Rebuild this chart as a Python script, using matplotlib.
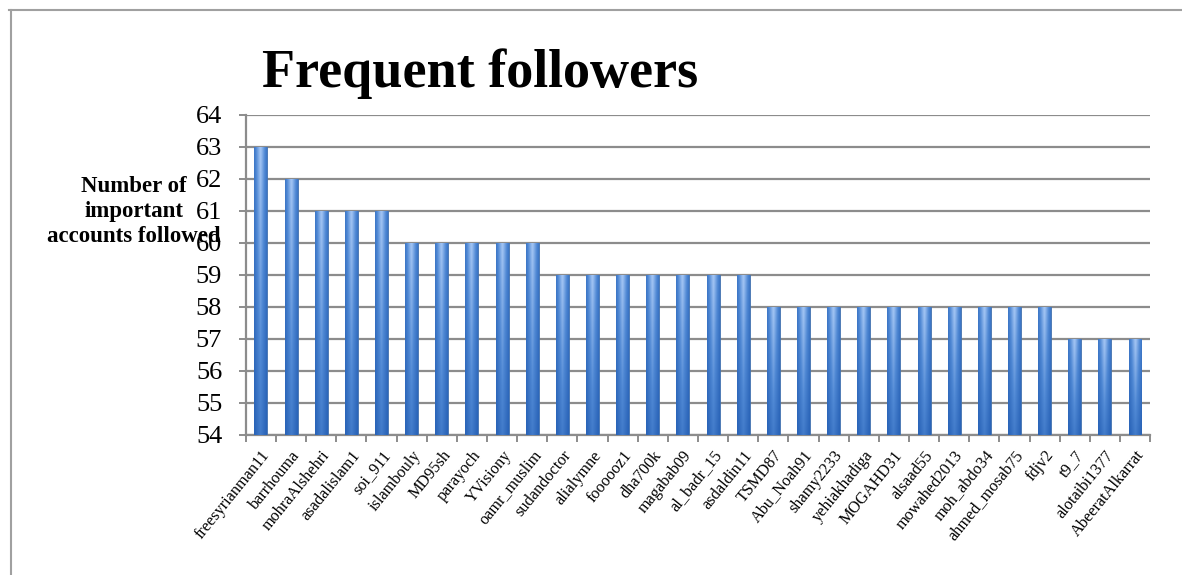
import matplotlib
matplotlib.use("Agg")
import matplotlib.pyplot as plt
import numpy as np
from matplotlib.lines import Line2D

accounts = ["freesyrianman11", "barrhouma", "mohraAlshehri", "asadalislam1", "soi_911",
            "islambouly", "MD95sh", "parayoch", "YVisiony", "oamr_muslim",
            "sudandoctor", "alialymne", "foooooz1", "dha700k", "magabab09",
            "al_badr_15", "asdaldin11", "TSMD87", "Abu_Noah91", "shamy2233",
            "yehiakhadiga", "MOGAHD31", "alsaad55", "mowahed2013", "moh_abdo34",
            "ahmed_mosab75", "fdjv2", "t9_7", "alotaibi1377", "AbeeratAlkarrat"]
followed = [63, 62, 61, 61, 61, 60, 60, 60, 60, 60,
            59, 59, 59, 59, 59, 59, 59, 58, 58, 58,
            58, 58, 58, 58, 58, 58, 58, 57, 57, 57]
y_ticks = list(range(54, 65))
ylabel_lines = ["Number of", "important", "accounts followed"]

serif = "Liberation Serif"
grey = "#8c8c8c"

fig = plt.figure(figsize=(11.82, 5.75), dpi=100)
ax = fig.add_axes([0.208, 0.2435, 0.765, 0.557])

x = np.arange(len(accounts))
bars = ax.bar(x, followed, width=0.43, bottom=0, color="#5f93d8",
              edgecolor="#3f6fae", linewidth=0.6, zorder=3)

# gradient fill for each bar: lighter in the middle and towards the top
h = np.linspace(0, 1, 32)
v = np.linspace(0, 1, 64)[:, None]
across = 1 - 0.6 * np.abs(h - 0.5) * 2
grad = across[None, :] * (0.45 + 0.55 * v)
cmap = matplotlib.colors.LinearSegmentedColormap.from_list(
    "bar", ["#2a64b8", "#4f88d4", "#9fc2f2"])
for b in bars:
    bx, bw, bh = b.get_x(), b.get_width(), b.get_height()
    im = ax.imshow(grad, cmap=cmap, vmin=0.2, vmax=0.95, origin="lower",
                   extent=(bx, bx + bw, 54, bh), aspect="auto", zorder=3,
                   interpolation="bilinear")
    im.set_clip_path(b)

ax.set_xlim(-0.5, len(accounts) - 0.5)
ax.set_ylim(54, 64)
ax.set_yticks(y_ticks)
ax.set_yticklabels([str(t) for t in y_ticks], fontsize=19, family=serif)
ax.yaxis.grid(True, color=grey, linewidth=1.6, zorder=0)
ax.set_axisbelow(True)

ax.set_xticks(x)
ax.set_xticklabels(accounts, rotation=51, ha="right", rotation_mode="anchor",
                   fontsize=11.7, family=serif)
ax.set_xticks(np.arange(-0.5, len(accounts), 1), minor=True)
ax.tick_params(axis="x", which="major", length=0, pad=9)
ax.tick_params(axis="x", which="minor", length=5, color=grey, width=1.4)
ax.tick_params(axis="y", length=5, color=grey, width=1.4, pad=12)

for side in ["top", "right"]:
    ax.spines[side].set_visible(False)
for side in ["left", "bottom"]:
    ax.spines[side].set_color(grey)
    ax.spines[side].set_linewidth(1.6)

fig.text(0.2215, 0.872, "Frequent followers", fontsize=39, fontweight="bold",
         family=serif, ha="left", va="center")

# y axis title, one line per text, centred on a common x
for i, line in enumerate(ylabel_lines):
    fig.text(0.1135, 0.675 - i * 0.0435, line, fontsize=16.5,
             fontweight="bold", family=serif, ha="center", va="center")

# outer chart frame
fig.add_artist(Line2D([0.008, 1.0], [0.983, 0.983], color="#a0a0a0",
                      linewidth=1.5, transform=fig.transFigure))
fig.add_artist(Line2D([0.009, 0.009], [0.0, 0.983], color="#a0a0a0",
                      linewidth=1.5, transform=fig.transFigure))

fig.savefig("out.png", dpi=100)
